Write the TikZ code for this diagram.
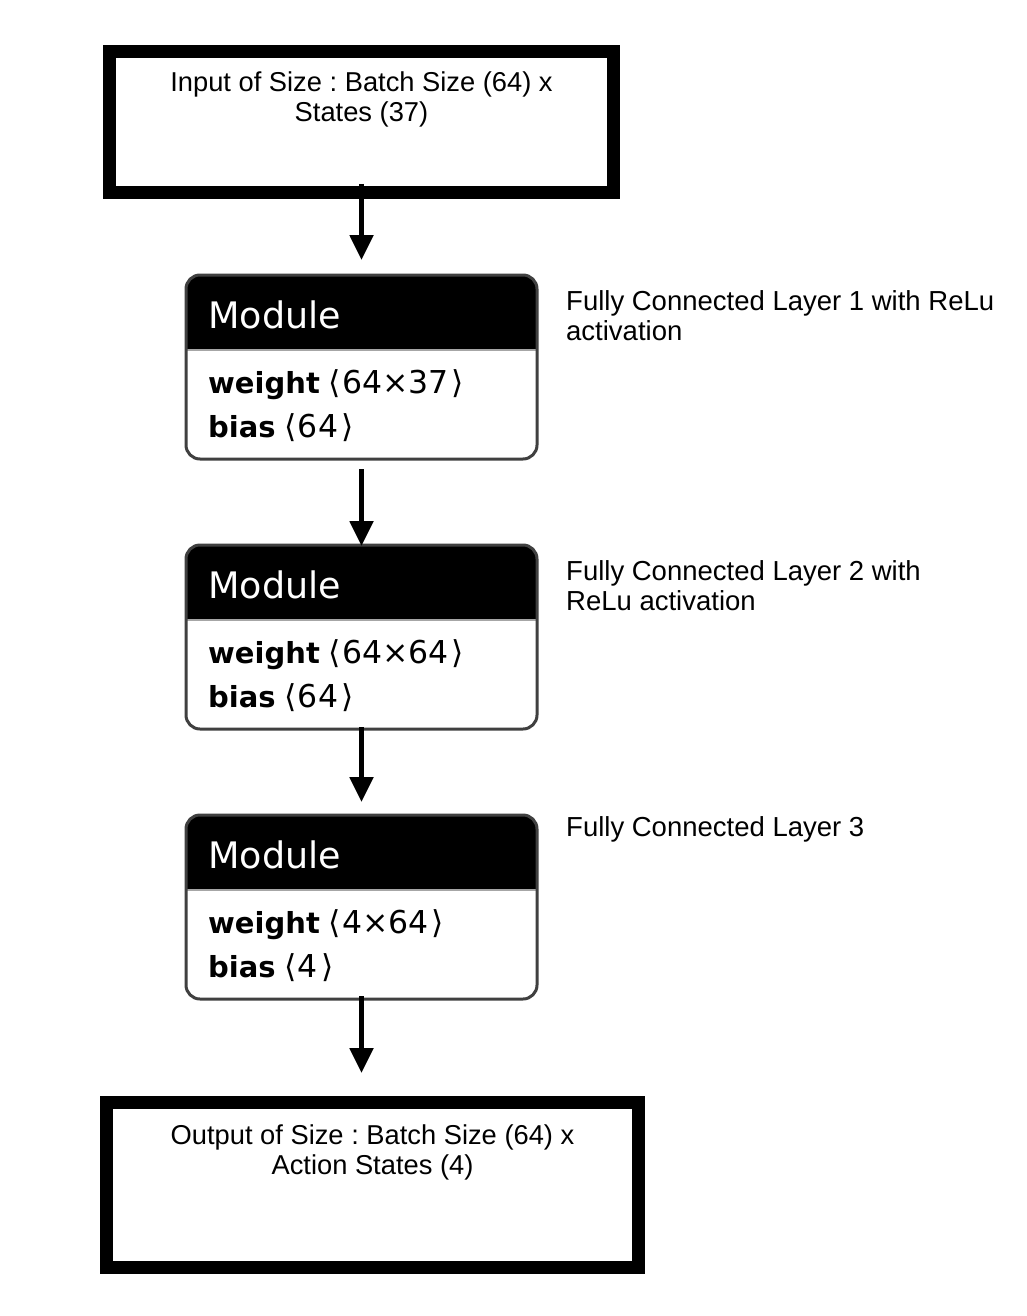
\documentclass[tikz,border=0pt]{standalone}
\usepackage{fontspec}
\setmainfont{Liberation Sans}
\newfontfamily\modfont{DejaVu Sans}
\usetikzlibrary{arrows.meta,calc}
\frenchspacing
\newcommand\dimtxt[1]{{\fontsize{31.5}{35}\selectfont ⟨\hspace{1pt}#1\hspace{3pt}⟩}}
\newcommand\mkmodule[4]{%
  \node[modshape] (#1) at (361.5,#2) {};
  \begin{scope}
    \clip[rounded corners=14pt] (#1.north west) rectangle (#1.south east);
    \fill[black] (#1.north west) rectangle ([yshift=-74pt]#1.north east);
  \end{scope}
  \draw[sepline] ([yshift=-75pt]#1.north west) -- ([yshift=-75pt]#1.north east);
  \draw[modborder] (#1.north west) rectangle (#1.south east);
  \node[modtitle] (#1t) at ([xshift=22pt,yshift=-53pt]#1.north west) {Module};
  \node[modrow] (#1w) at ([xshift=22pt,yshift=-118pt]#1.north west) {\textbf{weight}\hspace{9pt}\dimtxt{#3}};
  \node[modrow] (#1b) at ([xshift=22pt,yshift=-162pt]#1.north west) {\textbf{bias}\hspace{9pt}\dimtxt{#4}};
}
\begin{document}
\begin{tikzpicture}[x=1pt,y=-1pt,
  bigbox/.style={draw=black, line width=13pt, outer sep=0pt, inner sep=0pt},
  boxtext/.style={align=center, inner sep=0pt, anchor=base, font=\fontsize{27.3}{30}\selectfont},
  lbl/.style={align=left, inner sep=0pt, anchor=base west, font=\fontsize{27.5}{30}\selectfont},
  modshape/.style={rectangle, minimum width=351pt, minimum height=184pt, outer sep=0pt, inner sep=0pt},
  modborder/.style={draw=black!75, line width=3pt, rounded corners=14pt},
  sepline/.style={draw=black!35, line width=2.5pt},
  modtitle/.style={anchor=base west, inner sep=0pt, text=white, font=\modfont\fontsize{36.5}{44}\selectfont},
  modrow/.style={anchor=base west, inner sep=0pt, font=\modfont\fontsize{29}{35}\selectfont},
  arr/.style={line width=5pt, -{Triangle[length=25pt,width=23pt]}}
]
\useasboundingbox[fill=white] (0,0) rectangle (1026,1316);

% input box
\node[bigbox, minimum width=504pt, minimum height=141pt] (in) at (361.5,122) {};
\node[boxtext] (intext) at ([yshift=-70.5pt]in.north) {Input of Size : Batch Size (64) x\\States (37)};

% modules
\mkmodule{m1}{367}{64×37}{64}
\mkmodule{m2}{637}{64×64}{64}
\mkmodule{m3}{907}{4×64}{4}

% output box
\node[bigbox, minimum width=532pt, minimum height=165pt] (out) at (372.5,1185) {};
\node[boxtext] (outtext) at ([yshift=-71.5pt]out.north) {Output of Size : Batch Size (64) x\\Action States (4)};

% labels
\node[lbl] (l1) at (566,340) {Fully Connected Layer 1 with ReLu\\activation};
\node[lbl] (l2) at (566,610) {Fully Connected Layer 2 with\\ReLu activation};
\node[lbl] (l3) at (566,836) {Fully Connected Layer 3};

% arrows
\draw[arr] ([yshift=8.5pt]in.south) -- ([yshift=15pt]m1.north);
\draw[arr] ([yshift=-10pt]m1.south) -- ([yshift=-1pt]m2.north);
\draw[arr] ([yshift=2pt]m2.south) -- ([yshift=13pt]m3.north);
\draw[arr] ([yshift=3pt]m3.south) -- ($(out.north -| m3.south)+(0,-29.5)$);
\end{tikzpicture}
\end{document}
